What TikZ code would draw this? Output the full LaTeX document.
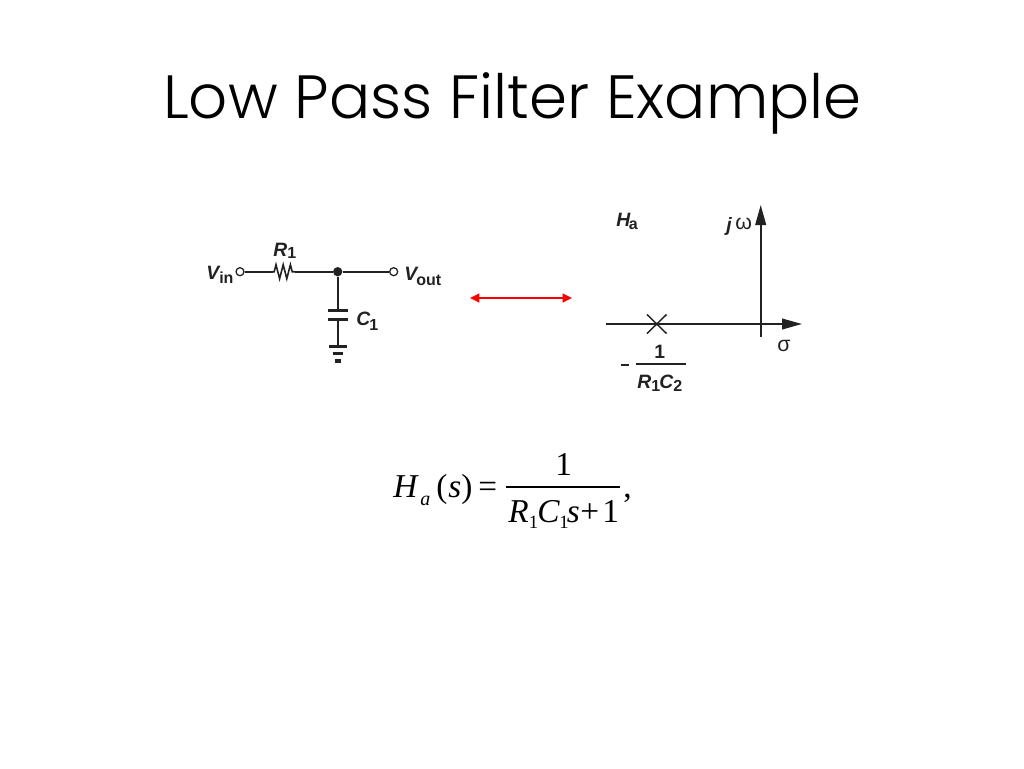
\documentclass[tikz,border=0pt]{standalone}
\usepackage{fontspec}
\setmainfont{Liberation Sans}
\newfontfamily\titlefont{Poppins Light}
\newfontfamily\eqfont{Liberation Serif}
\usetikzlibrary{arrows.meta}
\definecolor{ink}{HTML}{222222}
\tikzset{
  x=0.75pt,y=-0.75pt,
  wire/.style={draw=ink,line width=1.35pt},
  thickwire/.style={draw=ink,line width=2pt},
  terminal/.style={circle,draw=ink,fill=white,line width=0.95pt,inner sep=0pt,minimum size=6pt},
  junction/.style={circle,fill=ink,inner sep=0pt,minimum size=7pt},
  lab/.style={anchor=base west,inner sep=0pt,text=ink,font=\fontsize{14.5pt}{15pt}\selectfont\bfseries\itshape},
  sub/.style={anchor=base west,inner sep=0pt,text=ink,font=\fontsize{12pt}{13pt}\selectfont\bfseries},
  greek/.style={anchor=base west,inner sep=0pt,text=ink,font=\fontsize{16pt}{16pt}\selectfont},
  eq/.style={anchor=base west,inner sep=0pt,text=black,font=\fontsize{25pt}{28pt}\eqfont\selectfont},
  eqit/.style={eq,font=\fontsize{25pt}{28pt}\eqfont\itshape\selectfont},
  eqsub/.style={eq,font=\fontsize{14pt}{17pt}\eqfont\selectfont},
  eqsubit/.style={eq,font=\fontsize{15pt}{17pt}\eqfont\itshape\selectfont},
}
\begin{document}
\begin{tikzpicture}
\useasboundingbox (0,0) rectangle (1024,768);
\fill[white] (0,0) rectangle (1024,768);
% title
\node[anchor=base west,inner sep=0pt,font=\fontsize{45.8pt}{50pt}\titlefont\selectfont] (title) at (163,118) {Low Pass Filter Example};
% circuit
\node[terminal] (vin) at (240,271.7) {};
\node[terminal] (vout) at (393.7,271.7) {};
\node[junction] (j) at (337.7,271.7) {};
\coordinate (ra) at (272.7,271.7);
\coordinate (rb) at (295,271.7);
\coordinate (ca) at (337.7,310.7);
\coordinate (cb) at (337.7,319.3);
\coordinate (g) at (337.7,346.7);
\draw[wire] (vin) -- (ra);
\draw[wire,line width=1.2pt,line join=miter] (ra) -- ++(1.5,0) -- ++(1.8,-7) -- ++(3.6,14) -- ++(3.6,-14) -- ++(3.6,14) -- ++(3.6,-14) -- ++(1.8,7) -- (rb);
\draw[wire] (rb) -- (j);
\draw[wire] (j) -- (vout);
\draw[wire] (j) -- (ca);
\draw[wire] (cb) -- (g);
\draw[thickwire] (327.7,310.7) -- (348,310.7);
\draw[thickwire] (327.7,319.3) -- (348,319.3);
\draw[thickwire] (329,346.7) -- (346.5,346.7);
\draw[thickwire] (332.5,353.5) -- (343,353.5);
\draw[draw=ink,line width=2.6pt] (335,361) -- (341,361);
\node[lab] (vinl) at (206,279) {V};
\node[sub] (vins) at (219,283) {in};
\node[lab] (r1l) at (273,256) {R};
\node[sub] (r1s) at (287,258) {1};
\node[lab] (voutl) at (404,280) {V};
\node[sub] (vouts) at (416,285) {out};
\node[lab] (c1l) at (356,325) {C};
\node[sub] (c1s) at (369,330) {1};
% double arrow
\coordinate (da) at (470,298);
\coordinate (db) at (572,298);
\draw[draw=red,line width=1.7pt,{Triangle[length=7pt,width=6.5pt]}-{Triangle[length=7pt,width=6.5pt]}] (da) -- (db);
% pole-zero plot
\coordinate (xa) at (606,324);
\coordinate (xb) at (802,324);
\coordinate (ya) at (760.7,336.7);
\coordinate (yb) at (760.7,205);
\draw[wire,-{Triangle[length=15pt,width=8pt]}] (xa) -- (xb);
\draw[wire,-{Triangle[length=15pt,width=8pt]}] (ya) -- (yb);
\coordinate (p) at (656.7,324);
\draw[wire,line width=1.1pt] (647,314.5) -- (666.5,333.5);
\draw[wire,line width=1.1pt] (647,333.5) -- (666.5,314.5);
\node[lab] (hal) at (616,226) {H};
\node[sub] (has) at (628.5,229) {a};
\node[lab] (jl) at (726,231) {j};
\node[greek] (wl) at (735,229) {ω};
\node[greek] (sl) at (777,351) {σ};
\draw[wire] (621,365) -- (629,365);
\coordinate (fa) at (636,364);
\coordinate (fb) at (686,364);
\draw[wire] (fa) -- (fb);
\node[sub,font=\fontsize{14.5pt}{15pt}\selectfont\bfseries] (n1) at (654,358) {1};
\node[lab] (rd) at (637,388) {R};
\node[sub] (rds) at (651,391) {1};
\node[lab] (cd) at (659,388) {C};
\node[sub] (cds) at (673,391) {2};
% equation
\node[eqit] (H) at (393,497) {H};
\node[eqsubit] (a) at (420,505) {a};
\node[eq] (lp) at (436,497) {(};
\node[eqit] (s) at (448,497) {s};
\node[eq] (rp) at (461,497) {)};
\node[eq] (eqs) at (478,497) {=};
\coordinate (ba) at (506,487);
\coordinate (bb) at (620,487);
\draw[black,line width=0.9pt] (ba) -- (bb);
\node[eq] (one) at (555,475) {1};
\node[eqit] (R) at (508,522) {R};
\node[eqsub] (R1) at (528.5,528) {1};
\node[eqit] (C) at (537,522) {C};
\node[eqsub] (C1) at (559,528) {1};
\node[eqit] (s2) at (566.5,522) {s};
\node[eq] (plus) at (580,522) {+};
\node[eq] (one2) at (602,522) {1};
\node[eq] (comma) at (623,497) {,};
\end{tikzpicture}
\end{document}
